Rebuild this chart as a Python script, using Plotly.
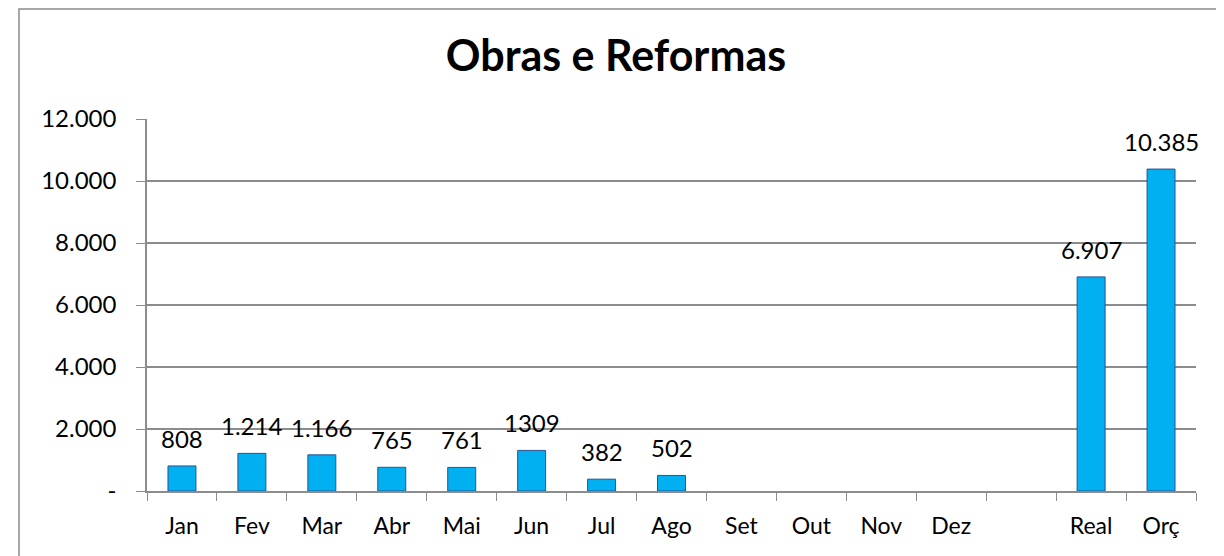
import plotly.graph_objects as go

categories = ["Jan", "Fev", "Mar", "Abr", "Mai", "Jun", "Jul", "Ago", "Set", "Out", "Nov", "Dez", " ", "Real", "Orç"]
values = [808, 1214, 1166, 765, 761, 1309, 382, 502, None, None, None, None, None, 6907, 10385]
value_labels = ["808", "1.214", "1.166", "765", "761", "1309", "382", "502", "", "", "", "", "", "6.907", "10.385"]
y_tickvals = [0, 2000, 4000, 6000, 8000, 10000, 12000]
y_ticktext = ["-", "2.000", "4.000", "6.000", "8.000", "10.000", "12.000"]

# page body has an 8px default margin, so the figure is sized to fit the window
W, H = 1216, 548
L, R, T, B = 139, 28, 111, 65
pw, ph = W - L - R, H - T - B

FONT = "Lato, 'Open Sans', sans-serif"
GRID = "#8C8C8C"

fig = go.Figure()
fig.add_trace(go.Bar(
    x=categories, y=values,
    marker=dict(color="#00B0F0", line=dict(color="#2F528F", width=1)),
    showlegend=False,
))

for c, v, t in zip(categories, values, value_labels):
    if v is None or not t:
        continue
    fig.add_annotation(x=c, y=v, text=t, showarrow=False, yanchor="bottom",
                       yshift=11, font=dict(family=FONT, size=24, color="#000000"))

fig.update_layout(
    width=W, height=H,
    margin=dict(l=L, r=R, t=T, b=B),
    paper_bgcolor="white", plot_bgcolor="white",
    bargap=0.6,
    title=dict(text="<b>Obras e Reformas</b>", x=0.5, xanchor="center",
               y=1 - 48 / H, yanchor="middle",
               font=dict(family=FONT, size=43, color="#000000")),
    xaxis=dict(
        type="category", categoryorder="array", categoryarray=categories,
        tickson="boundaries", ticks="outside", ticklen=8, tickcolor=GRID,
        showline=True, linecolor=GRID, linewidth=1.5, showgrid=False,
        ticklabelstandoff=14,
        tickfont=dict(family=FONT, size=23, color="#000000"),
        range=[-0.5, len(categories) - 0.5],
    ),
    yaxis=dict(
        range=[0, 12000], tickvals=y_tickvals, ticktext=y_ticktext,
        ticks="outside", ticklen=9, tickcolor=GRID,
        showline=True, linecolor=GRID, linewidth=1.5,
        showgrid=True, gridcolor=GRID, gridwidth=1.5, zeroline=False,
        ticklabelstandoff=15,
        tickfont=dict(family=FONT, size=24, color="#000000"),
    ),
    shapes=[dict(type="rect", xref="paper", yref="paper",
                 x0=(11 - L) / pw, x1=(W + 20 - L) / pw,
                 y0=-(H + 20 - T - ph) / ph, y1=1 + (T - 1) / ph,
                 line=dict(color=GRID, width=1.5), fillcolor="rgba(0,0,0,0)")],
)

fig.write_html("out.html")
